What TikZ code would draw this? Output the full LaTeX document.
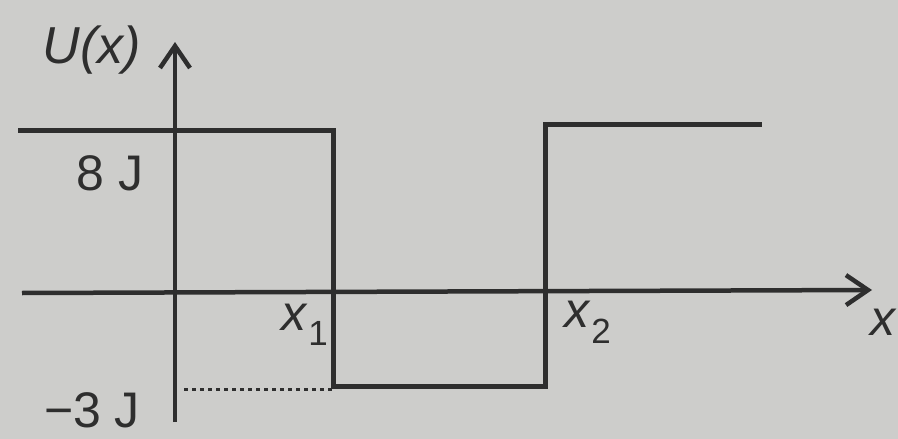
\documentclass[tikz,border=0pt]{standalone}
\usepackage{fontspec}
\setmainfont{Liberation Sans}
\usetikzlibrary{arrows.meta}
\definecolor{paper}{HTML}{CDCDCB}
\definecolor{ink}{HTML}{2E2E2E}
\tikzset{
  curve/.style={draw=ink,line width=5pt,line cap=butt,line join=miter},
  axis/.style={draw=ink,line width=4.5pt,-{Straight Barb[length=22pt,width=30pt,line width=4.5pt]}},
  lbl/.style={text=ink,inner sep=0pt,font=\fontsize{50}{58}\selectfont},
  guide/.style={draw=ink,line width=3pt,dash pattern=on 4pt off 4pt}
}
\begin{document}
\begin{tikzpicture}[x=1pt,y=-1pt]
\fill[paper] (0,0) rectangle (898,439);
\useasboundingbox (0,0) rectangle (898,439);
% axes
\coordinate (xs) at (22,293);
\coordinate (xe) at (872,290);
\coordinate (ys) at (175,422);
\coordinate (ye) at (175,42);
\draw[axis] (xs) -- (xe);
\draw[axis] (ys) -- (ye);
% potential
\coordinate (a) at (18,130);
\coordinate (b) at (333,130);
\coordinate (c) at (333,386);
\coordinate (d) at (545,386);
\coordinate (e) at (545,124);
\coordinate (f) at (762,124);
\draw[curve] (a) -- (b) -- (c) -- (d) -- (e) -- (f);
% dotted guide
\coordinate (g1) at (184,389);
\draw[guide] (g1) -- (c |- g1);
% labels
\node[lbl,font=\itshape\fontsize{52}{60}\selectfont] (U) at (92,50) {U(x)};
\node[lbl] (eight) at (110,173) {8 J};
\node[lbl] (minus) at (92,410) {\textminus 3 J};
\node[lbl] (x1) at (305,325) {\textit{x}\textsubscript{1}};
\node[lbl] (x2) at (588,322) {\textit{x}\textsubscript{2}};
\node[lbl,anchor=west] (xl) at (870,322) {\textit{x}};
\end{tikzpicture}
\end{document}
